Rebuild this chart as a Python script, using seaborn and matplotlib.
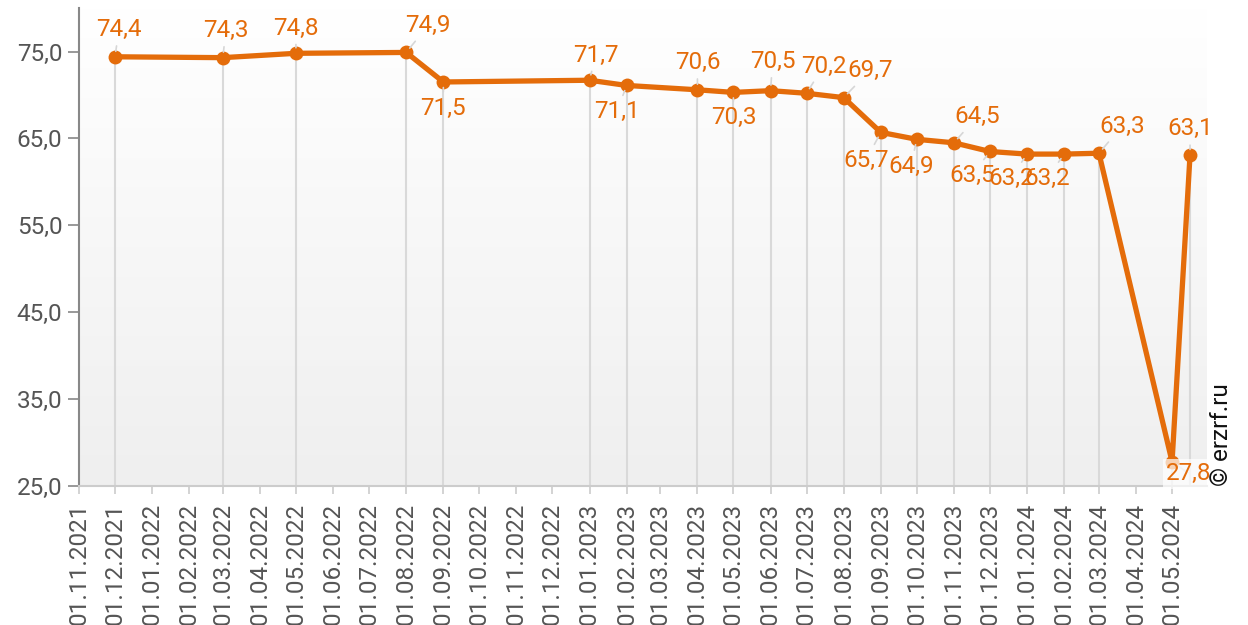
import pandas as pd
import seaborn as sns; sns.set_style("white")
import matplotlib.pyplot as plt
import numpy as np
from matplotlib.colors import LinearSegmentedColormap

plt.rcParams['font.family'] = ['Roboto', 'DejaVu Sans']

dates = ['2021-12-01', '2022-03-01', '2022-05-01', '2022-08-01', '2022-09-01',
         '2023-01-01', '2023-02-01', '2023-04-01', '2023-05-01', '2023-06-01',
         '2023-07-01', '2023-08-01', '2023-09-01', '2023-10-01', '2023-11-01',
         '2023-12-01', '2024-01-01', '2024-02-01', '2024-03-01', '2024-05-01',
         '2024-05-16']
values = [74.4, 74.3, 74.8, 74.9, 71.5, 71.7, 71.1, 70.6, 70.3, 70.5, 70.2, 69.7,
          65.7, 64.9, 64.5, 63.5, 63.2, 63.2, 63.3, 27.8, 63.1]
y_ticks = [25, 35, 45, 55, 65, 75]
x_ticks = pd.date_range('2021-11-01', '2024-05-01', freq='MS')

# label placement (pixels, dx / dy up)
label_offsets = [(4, 27), (3, 27), (0, 25), (22, 27), (0, -26), (6, 25), (-10, -26),
                 (0, 27), (0, -25), (2, 29), (17, 27), (26, 27), (-15, -28), (-6, -27),
                 (23, 26), (-18, -24), (-16, -24), (-17, -24), (23, 27), (17, -12), (0, 26)]

orange = '#e46c0a'
df = pd.DataFrame({'date': pd.to_datetime(dates), 'value': values})

fig = plt.figure(figsize=(12.48, 6.25), dpi=100)
ax = fig.add_axes([0.0633, 0.2224, 0.9037, 0.7646])

# background gradient
cmap = LinearSegmentedColormap.from_list('bg', ['#ffffff', '#efefef'])
grad = np.linspace(0, 1, 256).reshape(-1, 1)
ax.imshow(grad, extent=[0, 1, 0, 1], transform=ax.transAxes, aspect='auto',
          cmap=cmap, zorder=0, origin='upper')

ax.vlines(df['date'], 25, df['value'], color='#d9d9d9', lw=1.5, zorder=1)
sns.lineplot(x='date', y='value', data=df, color=orange, lw=3.8, marker='o',
             markersize=10, markeredgewidth=0, zorder=3, ax=ax)

for (d, v), (dx, dy) in zip(zip(df['date'], values), label_offsets):
    box = None
    if v == min(values):
        box = dict(boxstyle='square,pad=0.15', facecolor='white', edgecolor='none', alpha=0.7)
    ax.annotate(('%.1f' % v).replace('.', ','), xy=(d, v), xytext=(dx, dy),
                textcoords='offset pixels', ha='center', va='center', color=orange,
                fontsize=17.5, bbox=box, zorder=4,
                arrowprops=dict(arrowstyle='-', color='#d6d6d6', lw=1.2,
                                shrinkA=1, shrinkB=4))

ax.set_xlim(pd.Timestamp('2021-11-01'), pd.Timestamp('2024-05-30'))
ax.set_ylim(25, 80)
ax.set_yticks(y_ticks)
ax.set_yticklabels([('%.1f' % t).replace('.', ',') for t in y_ticks])
ax.set_xticks(x_ticks)
ax.set_xticklabels([d.strftime('%d.%m.%Y') for d in x_ticks], rotation=90)
ax.tick_params(axis='y', length=8, width=1.2, color='#888888', labelcolor='#555555',
               labelsize=17.5, left=True, pad=4)
ax.tick_params(axis='x', length=6, width=1.2, color='#cccccc', labelcolor='#555555',
               labelsize=17.5, bottom=True, pad=6)
ax.set_xlabel('')
ax.set_ylabel('')
for s in ['top', 'right']:
    ax.spines[s].set_visible(False)
ax.spines['left'].set_color('#888888')
ax.spines['left'].set_linewidth(1.5)
ax.spines['bottom'].set_color('#cccccc')
ax.spines['bottom'].set_linewidth(1.5)

fig.text(0.979, 0.304, '\u00a9 erzrf.ru', rotation=90, fontsize=17.5,
         ha='center', va='center', color='#111111')

plt.savefig('out.png', dpi=100)
